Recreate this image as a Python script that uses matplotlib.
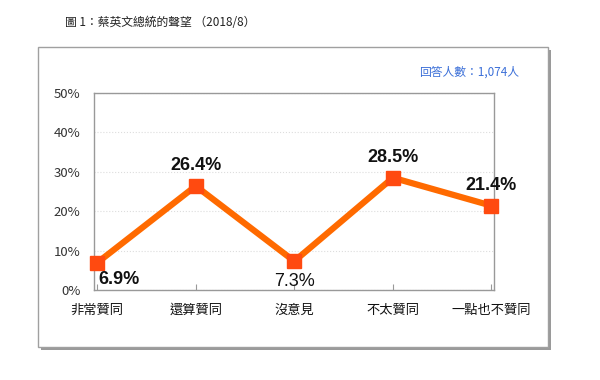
import matplotlib
matplotlib.use("Agg")
import matplotlib.pyplot as plt
from matplotlib.patches import Rectangle

plt.rcParams['font.family'] = ['Noto Sans CJK TC', 'DejaVu Sans']

# data
categories = ["非常贊同", "還算贊同", "沒意見", "不太贊同", "一點也不贊同"]
values = [6.9, 26.4, 7.3, 28.5, 21.4]
y_ticks = [0, 10, 20, 30, 40, 50]
title = "圖 1：蔡英文總統的聲望 （2018/8）"
note = "回答人數：1,074人"

fig = plt.figure(figsize=(6, 3.8), dpi=100)

# outer frame with shadow
fig.patches.append(Rectangle((0.068, 0.080), 0.85, 0.789, transform=fig.transFigure,
                             facecolor="#9a9a9a", edgecolor="none", zorder=0))
fig.patches.append(Rectangle((0.063, 0.087), 0.85, 0.789, transform=fig.transFigure,
                             facecolor="white", edgecolor="#a0a0a0", linewidth=1, zorder=1))

fig.text(0.108, 0.94, title, fontsize=8.5, color="#222222", va="center", ha="left")
fig.text(0.865, 0.81, note, fontsize=8.5, color="#3b6fd8", va="center", ha="right")

ax = fig.add_axes([0.157, 0.237, 0.667, 0.518])
ax.set_zorder(2)
x = list(range(len(categories)))
ax.plot(x, values, color="#ff6a00", linewidth=4.5, marker="s", markersize=10,
        markerfacecolor="#ff4a10", markeredgecolor="#ff4a10", zorder=3, clip_on=False)

ax.set_xlim(-0.03, 4.03)
ax.set_ylim(0, 50)
ax.set_yticks(y_ticks)
ax.set_yticklabels([f"{v}%" for v in y_ticks], fontsize=9.5, color="#333333")
ax.set_xticks(x)
ax.set_xticklabels(categories, fontsize=9.5, color="#111111", fontweight="medium")
ax.tick_params(axis="y", length=0, pad=10)
ax.tick_params(axis="x", length=4, direction="in", color="#999999", pad=10)
ax.grid(axis="y", color="#dddddd", linestyle=":", linewidth=0.8)
for s in ax.spines.values():
    s.set_color("#999999")
    s.set_linewidth(1)

# data labels
offsets = [(0.22, -4.2, "bold"), (0, 5.2, "bold"), (0, -5.2, "normal"),
           (0, 5.2, "bold"), (0.0, 5.2, "bold")]
for i, v in enumerate(values):
    dx, dy, w = offsets[i]
    ax.text(i + dx, v + dy, f"{v}%", fontsize=13, fontweight=w, color="#111111",
            ha="center", va="center", family=["Liberation Sans", "DejaVu Sans"])

fig.savefig("out.png", dpi=100)
